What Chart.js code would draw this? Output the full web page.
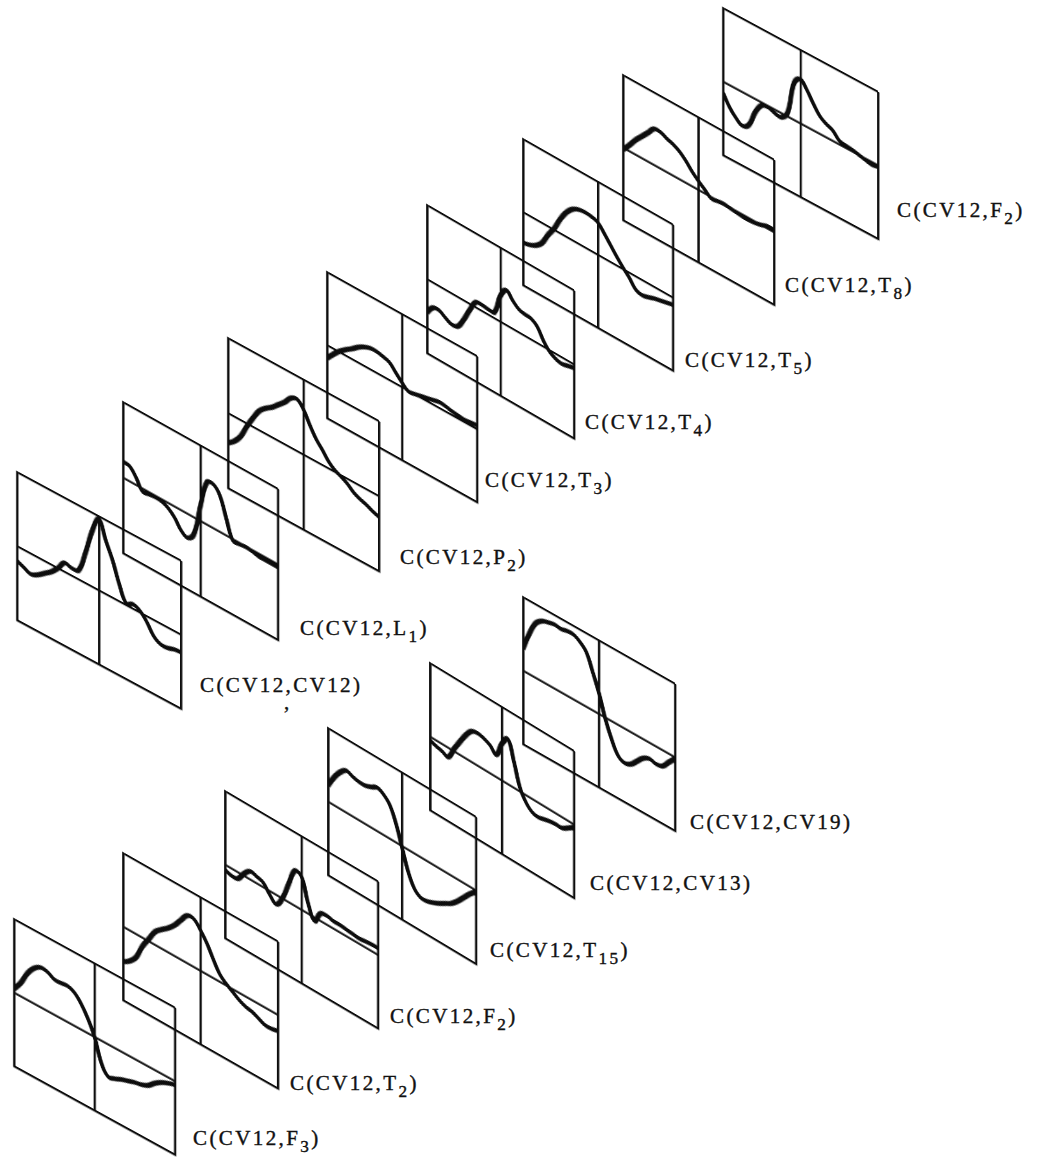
<!DOCTYPE html>
<html>
<head>
<meta charset="utf-8">
<script src="https://cdn.jsdelivr.net/npm/chart.js@4/dist/chart.umd.min.js"></script>
<style>
  html, body { margin: 0; background: #fff; }
  #sheet { position: relative; width: 1045px; height: 1157px; overflow: hidden; background: #fff; }
  #sheet canvas { position: absolute; }
  .lbl {
    position: absolute;
    font-family: "Liberation Serif", "DejaVu Serif", serif;
    font-size: 21px;
    letter-spacing: 2.4px;
    line-height: 24px;
    color: #111;
    -webkit-text-stroke: 0.4px #111;
    white-space: nowrap;
  }
  .lbl .sub { position: relative; top: 0.42em; font-size: 0.82em; }
</style>
</head>
<body>
<div id="sheet"></div>
<script>
// Lag positions along each panel (0 = left edge, 12 = centre divider, 24 = right edge)
const lagSteps = [0,1,2,3,4,5,6,7,8,9,10,11,12,13,14,15,16,17,18,19,20,21,22,23,24];

// Correlation curves, C(CV12, x), normalised to the panel's half height
const corrCV12 = [-0.20,-0.24,-0.28,-0.24,-0.17,-0.10,0.00,0.12,0.10,0.12,0.40,0.75,0.96,0.72,0.50,0.22,0.02,0.06,0.02,-0.08,-0.22,-0.28,-0.28,-0.25,-0.24];
const corrL1   = [0.21,0.20,0.10,-0.04,-0.03,-0.02,-0.03,-0.07,-0.15,-0.27,-0.32,-0.22,0.20,0.56,0.58,0.48,0.22,-0.02,-0.02,-0.01,-0.02,-0.04,-0.04,-0.04,-0.04];
const corrP2   = [-0.40,-0.33,-0.22,-0.04,0.12,0.26,0.34,0.40,0.48,0.56,0.66,0.69,0.60,0.44,0.30,0.20,0.09,0.02,-0.02,-0.07,-0.14,-0.18,-0.21,-0.25,-0.28];
const corrT3   = [-0.18,-0.08,0.01,0.08,0.14,0.21,0.26,0.29,0.29,0.27,0.24,0.15,0.06,-0.01,0.00,0.02,0.04,0.06,0.08,0.07,0.05,0.04,0.03,0.04,0.05];
const corrT4   = [-0.45,-0.34,-0.33,-0.38,-0.42,-0.40,-0.26,-0.08,0.07,0.08,0.07,0.08,0.35,0.47,0.38,0.31,0.29,0.28,0.22,0.08,-0.02,-0.07,-0.09,-0.07,-0.05];
const corrT5   = [-0.42,-0.40,-0.36,-0.28,-0.12,0.02,0.20,0.34,0.43,0.47,0.48,0.47,0.44,0.34,0.23,0.12,0.02,-0.07,-0.18,-0.21,-0.19,-0.16,-0.14,-0.12,-0.10];
const corrT8   = [-0.03,0.08,0.20,0.30,0.40,0.50,0.50,0.46,0.43,0.38,0.30,0.20,0.12,0.05,-0.02,-0.01,0.00,-0.01,-0.02,-0.03,-0.03,-0.02,0.00,0.03,0.03];
const corrF2a  = [-0.15,-0.30,-0.40,-0.46,-0.40,-0.18,-0.04,-0.02,-0.05,-0.06,0.05,0.50,0.60,0.50,0.36,0.24,0.18,0.14,0.05,0.03,0.02,0.00,-0.02,-0.04,-0.02];
const corrF3   = [0.05,0.18,0.36,0.48,0.54,0.53,0.48,0.48,0.49,0.45,0.35,0.20,0.00,-0.30,-0.44,-0.42,-0.38,-0.35,-0.32,-0.30,-0.26,-0.18,-0.12,-0.08,-0.05];
const corrT2   = [-0.48,-0.42,-0.32,-0.12,0.03,0.18,0.26,0.33,0.42,0.54,0.65,0.65,0.55,0.42,0.25,0.10,0.02,-0.04,-0.10,-0.14,-0.16,-0.20,-0.24,-0.24,-0.22];
const corrF2b  = [-0.07,-0.10,-0.09,0.03,0.11,0.09,0.06,-0.05,-0.13,0.00,0.25,0.48,0.45,0.15,-0.05,0.10,0.12,0.10,0.10,0.09,0.08,0.07,0.08,0.09,0.09];
const corrT15  = [0.22,0.38,0.50,0.57,0.54,0.52,0.52,0.55,0.59,0.55,0.46,0.26,-0.02,-0.30,-0.48,-0.55,-0.55,-0.52,-0.48,-0.43,-0.38,-0.30,-0.20,-0.10,-0.02];
const corrCV13 = [-0.05,-0.08,-0.10,-0.13,0.03,0.18,0.32,0.42,0.44,0.42,0.38,0.30,0.50,0.61,0.35,0.05,-0.10,-0.18,-0.20,-0.18,-0.16,-0.15,-0.15,-0.10,-0.04];
const corrCV19 = [0.30,0.55,0.74,0.82,0.85,0.87,0.86,0.88,0.88,0.83,0.74,0.52,0.28,-0.02,-0.25,-0.42,-0.47,-0.44,-0.35,-0.26,-0.22,-0.24,-0.22,-0.12,-0.02];

// Second variable of each panel: name and subscript
const partnerNames = ['CV12','L','P','T','T','T','T','F','F','T','F','T','CV13','CV19'];
const partnerSubs  = ['','1','2','3','4','5','8','2','3','2','2','15','',''];
const panelSeries  = [corrCV12, corrL1, corrP2, corrT3, corrT4, corrT5, corrT8, corrF2a,
                      corrF3, corrT2, corrF2b, corrT15, corrCV13, corrCV19];

// Page layout of the sheared panels: left-top corner, width, height, shear, label anchor
const panelBoxes = [
  {x: 17,  y: 472, w: 164, h: 148, s: 0.54, lx: 200, ly: 685},
  {x: 123, y: 402, w: 155, h: 151, s: 0.56, lx: 300, ly: 628},
  {x: 228, y: 338, w: 151, h: 150, s: 0.55, lx: 400, ly: 557},
  {x: 327, y: 272, w: 150, h: 146, s: 0.56, lx: 485, ly: 480},
  {x: 427, y: 205, w: 147, h: 148, s: 0.58, lx: 585, ly: 422},
  {x: 523, y: 139, w: 150, h: 146, s: 0.57, lx: 685, ly: 360},
  {x: 623, y: 75,  w: 151, h: 145, s: 0.56, lx: 785, ly: 285},
  {x: 723, y: 8,   w: 155, h: 147, s: 0.54, lx: 897, ly: 210},
  {x: 14,  y: 919, w: 161, h: 147, s: 0.55, lx: 193, ly: 1138},
  {x: 123, y: 853, w: 155, h: 147, s: 0.57, lx: 290, ly: 1083},
  {x: 225, y: 791, w: 153, h: 147, s: 0.59, lx: 390, ly: 1016},
  {x: 328, y: 728, w: 148, h: 147, s: 0.60, lx: 490, ly: 950},
  {x: 430, y: 663, w: 144, h: 147, s: 0.61, lx: 590, ly: 883},
  {x: 523, y: 597, w: 152, h: 147, s: 0.57, lx: 690, ly: 822}
];

const PAD = 6;
const INK = '#0d0d0d';
const sheet = document.getElementById('sheet');

panelSeries.forEach((series, i) => {
  const box = panelBoxes[i];
  const cssW = box.w + 2 * PAD;
  const cssH = box.h + 2 * PAD;
  const cv = document.createElement('canvas');
  cv.width = cssW;
  cv.height = cssH;
  cv.style.width = cssW + 'px';
  cv.style.height = cssH + 'px';
  cv.style.left = (box.x - PAD) + 'px';
  cv.style.top = (box.y - PAD) + 'px';
  cv.style.transformOrigin = PAD + 'px ' + PAD + 'px';
  cv.style.transform = 'skewY(' + Math.atan(box.s) + 'rad)';
  sheet.appendChild(cv);

  const frameGrid = {color: INK, lineWidth: 2.3, drawTicks: false};
  const frameBorder = {display: true, color: INK, width: 2.3};

  new Chart(cv, {
    type: 'line',
    data: {
      datasets: [{
        data: lagSteps.map((lag, k) => ({x: lag, y: series[k]})),
        borderColor: INK,
        borderWidth: 4.4,
        pointRadius: 0,
        tension: 0.4,
        fill: false
      }]
    },
    options: {
      responsive: false,
      animation: false,
      devicePixelRatio: 2,
      events: [],
      layout: {padding: PAD},
      plugins: {legend: {display: false}, tooltip: {enabled: false}},
      scales: {
        x: {type: 'linear', min: 0, max: 24,
            ticks: {display: false, stepSize: 12},
            grid: frameGrid, border: frameBorder},
        y: {type: 'linear', min: -1, max: 1,
            ticks: {display: false, stepSize: 1},
            grid: frameGrid, border: frameBorder}
      }
    }
  });

  const lbl = document.createElement('div');
  lbl.className = 'lbl';
  lbl.style.left = box.lx + 'px';
  lbl.style.top = (box.ly - 12) + 'px';
  lbl.appendChild(document.createTextNode('C(CV12,' + partnerNames[i]));
  if (partnerSubs[i]) {
    const sub = document.createElement('span');
    sub.className = 'sub';
    sub.textContent = partnerSubs[i];
    lbl.appendChild(sub);
  }
  lbl.appendChild(document.createTextNode(')'));
  sheet.appendChild(lbl);
});

// stray typed comma under the first label
const stray = document.createElement('div');
stray.className = 'lbl';
stray.style.left = '284px';
stray.style.top = '690px';
stray.textContent = ',';
sheet.appendChild(stray);
</script>
</body>
</html>
